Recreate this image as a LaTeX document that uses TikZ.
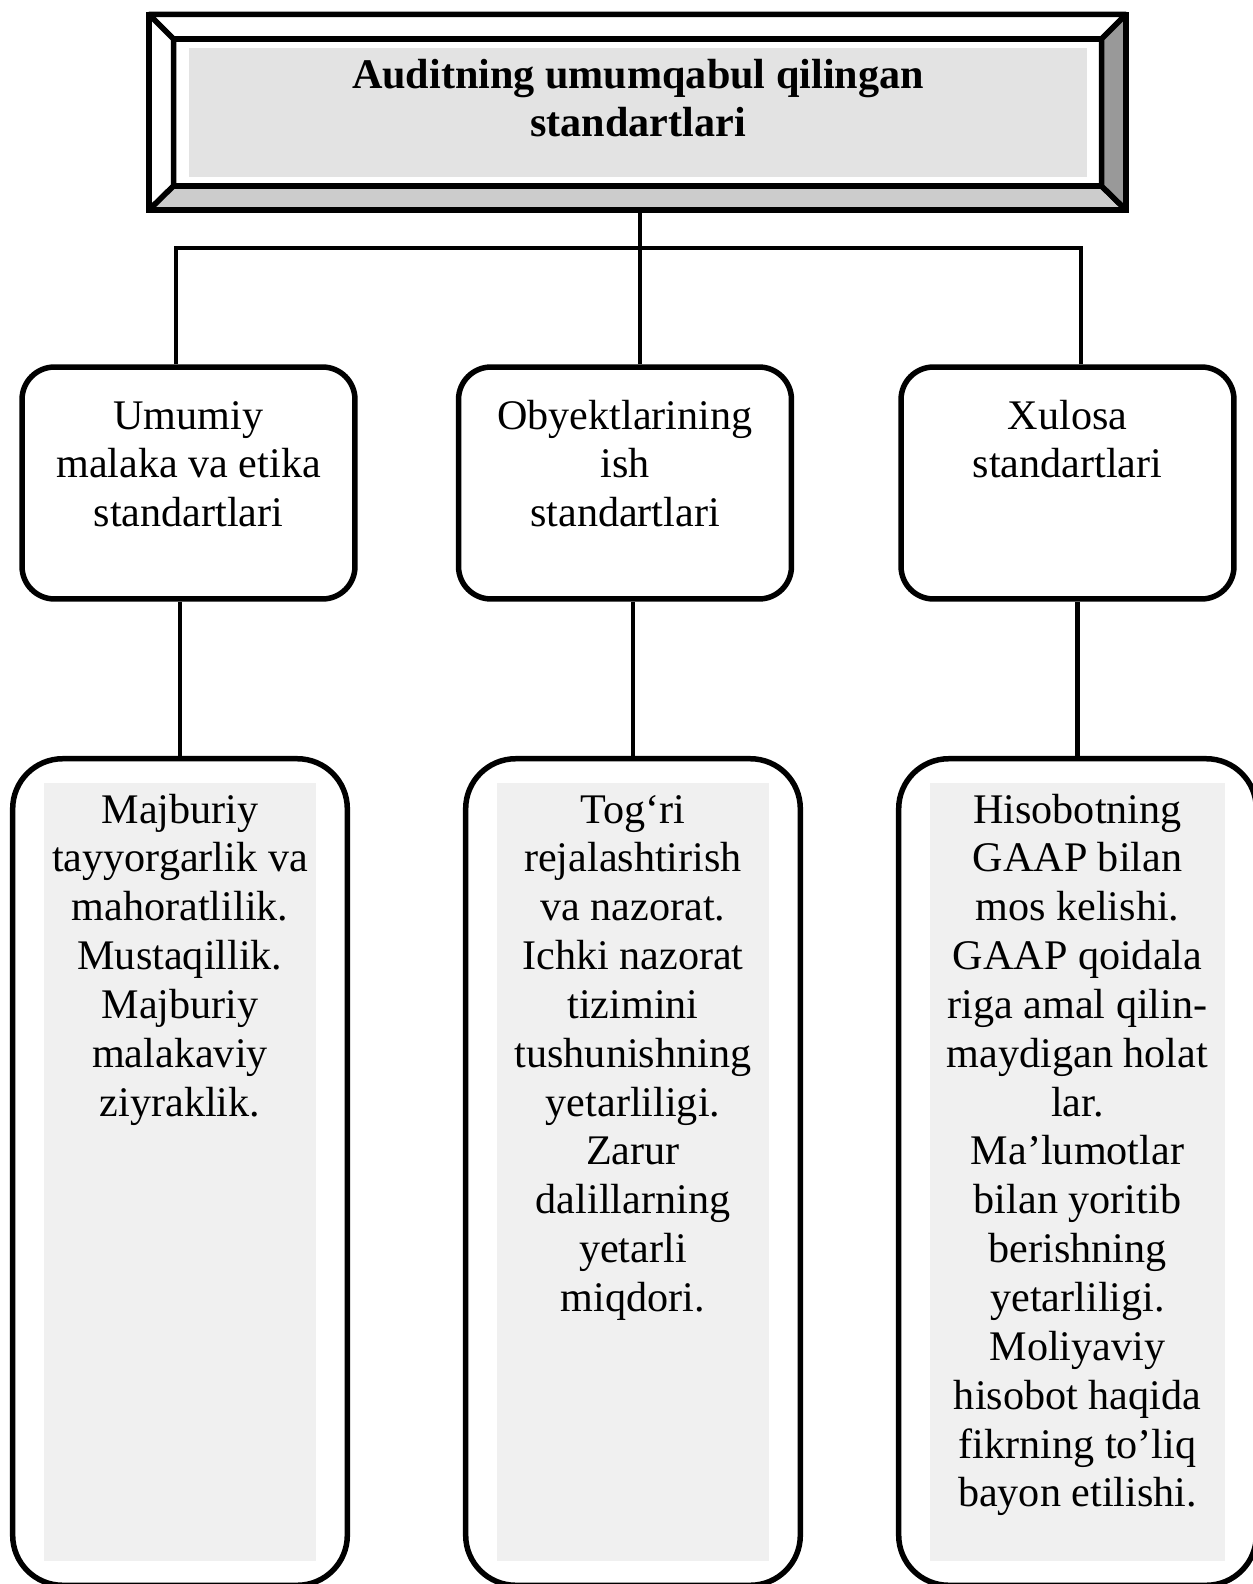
\documentclass[tikz,border=0pt]{standalone}
\usepackage{fontspec}
\setmainfont{Liberation Serif}
\usepackage{tikz}
\usetikzlibrary{fit}
\definecolor{colorTitle}{HTML}{E3E3E3}
\definecolor{colorLow}{HTML}{F0F0F0}
\definecolor{colorBevelL}{HTML}{CCCCCC}
\definecolor{colorBevelD}{HTML}{999999}

\tikzset{
    bevel/.style={line width=0.11cm, line join=round},
    frameline/.style={line width=0.11cm, line join=miter},
    link/.style={line width=0.095cm},
    midbox/.style={draw, line width=0.11cm, rounded corners=0.65cm, inner sep=0,
        minimum width=6.66cm, minimum height=4.64cm},
    lowtext/.style={fill=colorLow, inner sep=0},
    lowbox/.style={draw, line width=0.11cm, rounded corners=1cm, inner xsep=0.62cm, inner ysep=0.48cm}
}

\begin{document}
\begin{tikzpicture}[x=0.02cm, y=-0.02cm, font=\fontsize{24}{27.8}\selectfont]
        \useasboundingbox (0,0) rectangle (1253,1584);

        \coordinate (onw) at (149,14.5);
        \coordinate (one) at (1126,14.5);
        \coordinate (ose) at (1126,210);
        \coordinate (osw) at (149,210);
        \coordinate (inw) at (173.5,39);
        \coordinate (ine) at (1101.5,39);
        \coordinate (ise) at (1101.5,186);
        \coordinate (isw) at (173.5,186);
        \filldraw[bevel, fill=white] (onw) -- (one) -- (ine) -- (inw) -- cycle;
        \filldraw[bevel, fill=white] (onw) -- (inw) -- (isw) -- (osw) -- cycle;
        \filldraw[bevel, fill=colorBevelL] (osw) -- (isw) -- (ise) -- (ose) -- cycle;
        \filldraw[bevel, fill=colorBevelD] (one) -- (ose) -- (ise) -- (ine) -- cycle;
        \draw[frameline] (onw) rectangle (ose);
        \draw[frameline] (inw) rectangle (ise);
        \node[fill=colorTitle, inner sep=0, font=\fontsize{24}{27.8}\selectfont\bfseries] (title) at (638,112.5)
            {\parbox[c][2.58cm][t]{17.96cm}{\centering\rule{0pt}{0.8cm}Auditning umumqabul qilingan\\ standartlari}};

        \node[midbox] (box1) at (188.5,483)
            {\parbox[c][4.64cm][t]{6.4cm}{\centering\rule{0pt}{1.24cm}Umumiy\\ malaka va etika\\ standartlari}};
        \node[midbox] (box2) at (625,483)
            {\parbox[c][4.64cm][t]{6.4cm}{\centering\rule{0pt}{1.24cm}Obyektlarining\\ ish\\ standartlari}};
        \node[midbox] (box3) at (1067.5,483)
            {\parbox[c][4.64cm][t]{6.4cm}{\centering\rule{0pt}{1.24cm}Xulosa\\ standartlari}};

        \node[lowtext] (txt1) at (180,1172)
            {\parbox[c][15.56cm][t]{5.44cm}{\centering\rule{0pt}{0.8cm}Majburiy\\ tayyorgarlik va\\ mahoratlilik.\\ Mustaqillik.\\ Majburiy\\ malakaviy\\ ziyraklik.}};
        \node[lowtext] (txt2) at (633,1172)
            {\parbox[c][15.56cm][t]{5.44cm}{\centering\rule{0pt}{0.8cm}Tog‘ri\\ rejalashtirish\\ va nazorat.\\ Ichki nazorat\\ tizimini\\ tushunishning\\ yetarliligi.\\ Zarur\\ dalillarning\\ yetarli\\ miqdori.}};
        \node[lowtext] (txt3) at (1077.5,1172)
            {\parbox[c][15.56cm][t]{5.9cm}{\centering\rule{0pt}{0.8cm}Hisobotning\\ GAAP bilan\\ mos kelishi.\\ GAAP qoidala\\ riga amal qilin-\\ maydigan holat\\ lar.\\ Ma’lumotlar\\ bilan yoritib\\ berishning\\ yetarliligi.\\ Moliyaviy\\ hisobot haqida\\ fikrning to’liq\\ bayon etilishi.}};
        \node[lowbox, fit=(txt1)] (low1) {};
        \node[lowbox, fit=(txt2)] (low2) {};
        \node[lowbox, fit=(txt3)] (low3) {};

        \coordinate (frame) at (640,210);
        \coordinate (barL) at (176,248);
        \coordinate (barR) at (1081,248);
        \draw[link] (frame) -- (frame |- box2.north);
        \draw[link] (barL |- box1.north) -- (barL) -- (barR) -- (barR |- box3.north);
        \draw[link] (box1.south -| low1.north) -- (low1.north);
        \draw[link] (box2.south -| low2.north) -- (low2.north);
        \draw[link] (box3.south -| low3.north) -- (low3.north);
    \end{tikzpicture}
\end{document}
